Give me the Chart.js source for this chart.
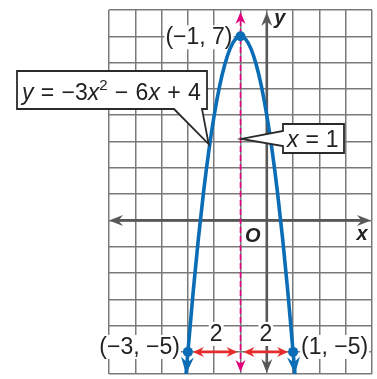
<!DOCTYPE html>
<html>
<head>
<meta charset="utf-8">
<script src="https://cdn.jsdelivr.net/npm/chart.js@4.4.0/dist/chart.umd.min.js"></script>
<style>
  html, body { margin: 0; padding: 0; background: #fff; }
  canvas { display: block; }
</style>
</head>
<body>
<canvas id="graph" width="377" height="379"></canvas>
<script>
// parabola y = -3x^2 - 6x + 4
var curveX = [-3.07, -3, -2.8, -2.6, -2.4, -2.2, -2, -1.8, -1.6, -1.4, -1.2, -1, -0.8, -0.6, -0.4, -0.2, 0, 0.2, 0.4, 0.6, 0.8, 1, 1.07];
var curveY = [-5.84, -5, -2.72, -0.68, 1.12, 2.68, 4, 5.08, 5.92, 6.52, 6.88, 7, 6.88, 6.52, 5.92, 5.08, 4, 2.68, 1.12, -0.68, -2.72, -5, -5.84];

// labelled points
var keyX = [-3, -1, 1];
var keyY = [-5, 7, -5];
var keyLabels = ["(\u22123, \u22125)", "(\u22121, 7)", "(1, \u22125)"];

// axis of symmetry and the two distances marked on y = -5
var symmetryX = -1;
var distFrom = [-3, -1];
var distTo = [-1, 1];
var distLabels = ["2", "2"];
var distY = -5;

var xMin = -6, xMax = 4;
var yMin = -5.84, yMax = 8;

var BLUE = "#0a6db6";
var PINK = "#e4007c";
var RED = "#e52b2b";
var AXIS = "#585858";
var INK = "#222";
var FONT = "'Liberation Sans', Arial, sans-serif";

var curveData = curveX.map(function (x, i) { return { x: x, y: curveY[i] }; });
var keyData = keyX.map(function (x, i) { return { x: x, y: keyY[i] }; });

function arrowHead(ctx, x, y, angle, len, wid, color) {
  ctx.save();
  ctx.translate(x, y);
  ctx.rotate(angle);
  ctx.beginPath();
  ctx.moveTo(0, 0);
  ctx.lineTo(-len, -wid / 2);
  ctx.lineTo(-len * 0.68, 0);
  ctx.lineTo(-len, wid / 2);
  ctx.closePath();
  ctx.fillStyle = color;
  ctx.fill();
  ctx.restore();
}

// text on a white patch, y is the baseline
function whiteLabel(ctx, text, x, y, align) {
  ctx.font = "23px " + FONT;
  ctx.textBaseline = "alphabetic";
  ctx.textAlign = align;
  var w = ctx.measureText(text).width;
  var left = align === "right" ? x - w : (align === "center" ? x - w / 2 : x);
  ctx.fillStyle = "#fff";
  ctx.fillRect(left - 1, y - 19, w + 2, 24);
  ctx.fillStyle = INK;
  ctx.fillText(text, x, y);
}

// draws runs of [text, style] left to right from a baseline,
// spaces get a little extra room like the printed figure
function drawRuns(ctx, runs, x, y, extra) {
  ctx.textBaseline = "alphabetic";
  ctx.textAlign = "left";
  ctx.fillStyle = INK;
  runs.forEach(function (r) {
    var dy = 0;
    if (r[1] === "i") ctx.font = "italic 23px " + FONT;
    else if (r[1] === "sup") { ctx.font = "15px " + FONT; dy = -10; }
    else ctx.font = "23px " + FONT;
    var parts = r[0].split(" ");
    parts.forEach(function (s, k) {
      if (k > 0) x += ctx.measureText(" ").width + extra;
      ctx.fillText(s, x, y + dy);
      x += ctx.measureText(s).width;
    });
  });
}

function callout(ctx, pts) {
  ctx.beginPath();
  ctx.moveTo(pts[0][0], pts[0][1]);
  for (var i = 1; i < pts.length; i++) ctx.lineTo(pts[i][0], pts[i][1]);
  ctx.closePath();
  ctx.fillStyle = "#fff";
  ctx.fill();
  ctx.lineWidth = 1.8;
  ctx.strokeStyle = "#2a2a2a";
  ctx.stroke();
}

var backdrop = {
  id: "backdrop",
  beforeDatasetsDraw: function (chart) {
    var ctx = chart.ctx, a = chart.chartArea;
    var sx = chart.scales.x, sy = chart.scales.y;
    var x0 = sx.getPixelForValue(0), y0 = sy.getPixelForValue(0);
    ctx.save();
    // point labels sit under the curve
    whiteLabel(ctx, keyLabels[0], sx.getPixelForValue(keyX[0]) - 8, sy.getPixelForValue(keyY[0]) + 2, "right");
    whiteLabel(ctx, keyLabels[1], sx.getPixelForValue(keyX[1]) - 8, sy.getPixelForValue(keyY[1]) + 8, "right");
    whiteLabel(ctx, keyLabels[2], sx.getPixelForValue(keyX[2]) + 8, sy.getPixelForValue(keyY[2]) + 2, "left");
    // x axis
    ctx.strokeStyle = AXIS;
    ctx.lineWidth = 2.6;
    ctx.beginPath();
    ctx.moveTo(a.left + 8, y0);
    ctx.lineTo(a.right - 9, y0);
    ctx.stroke();
    arrowHead(ctx, a.left, y0, Math.PI, 14, 11, AXIS);
    arrowHead(ctx, a.right - 1, y0, 0, 14, 11, AXIS);
    // y axis
    ctx.beginPath();
    ctx.moveTo(x0, a.top + 10);
    ctx.lineTo(x0, a.bottom - 8);
    ctx.stroke();
    arrowHead(ctx, x0, a.top + 2, -Math.PI / 2, 14, 11, AXIS);
    arrowHead(ctx, x0, a.bottom - 1, Math.PI / 2, 14, 11, AXIS);
    // axis of symmetry
    var xs = sx.getPixelForValue(symmetryX);
    ctx.strokeStyle = PINK;
    ctx.lineWidth = 1.6;
    ctx.setLineDash([6, 3]);
    ctx.beginPath();
    ctx.moveTo(xs, a.top + 10);
    ctx.lineTo(xs, a.bottom - 8);
    ctx.stroke();
    ctx.setLineDash([]);
    arrowHead(ctx, xs, a.top + 2, -Math.PI / 2, 12, 10, PINK);
    arrowHead(ctx, xs, a.bottom - 2, Math.PI / 2, 12, 10, PINK);
    // distance labels cover the axis
    var yd = sy.getPixelForValue(distY);
    for (var i = 0; i < distLabels.length; i++) {
      var mid = sx.getPixelForValue((distFrom[i] + distTo[i]) / 2);
      whiteLabel(ctx, distLabels[i], mid + (i === 0 ? 2 : -1), yd - 11, "center");
    }
    // axis letters
    ctx.fillStyle = INK;
    ctx.font = "italic bold 20px " + FONT;
    ctx.textBaseline = "alphabetic";
    ctx.textAlign = "center";
    ctx.fillText("x", a.right - 10, y0 + 20);
    ctx.fillText("y", x0 + 13, a.top + 14);
    ctx.fillText("O", x0 - 14, y0 + 22);
    ctx.restore();
  },
  afterDatasetsDraw: function (chart) {
    var ctx = chart.ctx;
    var sx = chart.scales.x, sy = chart.scales.y;
    ctx.save();
    // arrowheads on curve ends
    var n = curveData.length;
    [[curveData[1], curveData[0]], [curveData[n - 2], curveData[n - 1]]].forEach(function (p) {
      var ax = sx.getPixelForValue(p[0].x), ay = sy.getPixelForValue(p[0].y);
      var bx = sx.getPixelForValue(p[1].x), by = sy.getPixelForValue(p[1].y);
      arrowHead(ctx, bx, by, Math.atan2(by - ay, bx - ax), 17, 13, BLUE);
    });
    // distance arrows
    var yd = sy.getPixelForValue(distY);
    ctx.strokeStyle = RED;
    ctx.lineWidth = 2.6;
    for (var i = 0; i < distFrom.length; i++) {
      var p1 = sx.getPixelForValue(distFrom[i]) + (distFrom[i] === symmetryX ? 3 : 5);
      var p2 = sx.getPixelForValue(distTo[i]) - (distTo[i] === symmetryX ? 3 : 5);
      ctx.beginPath();
      ctx.moveTo(p1 + 6, yd);
      ctx.lineTo(p2 - 6, yd);
      ctx.stroke();
      arrowHead(ctx, p1, yd, Math.PI, 11, 10, RED);
      arrowHead(ctx, p2, yd, 0, 11, 10, RED);
    }

    // callout for the equation
    var t1x = sx.getPixelForValue(-2.21), t1y = sy.getPixelForValue(2.9);
    callout(ctx, [[17, 71], [207, 71], [207, 109], [202, 109], [t1x, t1y], [174, 109], [17, 109]]);
    drawRuns(ctx, [["y", "i"], [" = \u22123", ""], ["x", "i"], ["2", "sup"], [" \u2212 6", ""], ["x", "i"], [" + 4", ""]], 22, 100, 0.9);

    // callout for the symmetry line
    var t2x = sx.getPixelForValue(symmetryX), t2y = sy.getPixelForValue(3.1);
    callout(ctx, [[283, 124], [344, 124], [344, 153], [283, 153], [283, 146], [t2x + 1, t2y], [283, 131]]);
    drawRuns(ctx, [["x", "i"], [" = 1", ""]], 287, 147, 0.5);
    ctx.restore();
  }
};

var gridOpts = { color: "#7a7a7a", lineWidth: 1.5, drawTicks: false };

new Chart(document.getElementById("graph").getContext("2d"), {
  type: "scatter",
  data: {
    datasets: [
      {
        label: "curve",
        data: curveData,
        showLine: true,
        borderColor: BLUE,
        borderWidth: 3.6,
        pointRadius: 0,
        cubicInterpolationMode: "monotone",
      },
      {
        label: "points",
        data: keyData,
        pointRadius: 5,
        pointBackgroundColor: BLUE,
        pointBorderWidth: 0,
      },
    ],
  },
  options: {
    responsive: false,
    animation: false,
    events: [],
    layout: { padding: { left: 109, right: 1, top: 10, bottom: 0 } },
    scales: {
      x: {
        type: "linear",
        min: xMin,
        max: xMax,
        ticks: { stepSize: 1, display: false },
        grid: gridOpts,
        border: { display: false },
      },
      y: {
        type: "linear",
        min: yMin,
        max: yMax,
        ticks: { stepSize: 1, display: false },
        grid: gridOpts,
        border: { display: false },
      },
    },
    plugins: {
      legend: { display: false },
      tooltip: { enabled: false },
    },
  },
  plugins: [backdrop],
});
</script>
</body>
</html>
